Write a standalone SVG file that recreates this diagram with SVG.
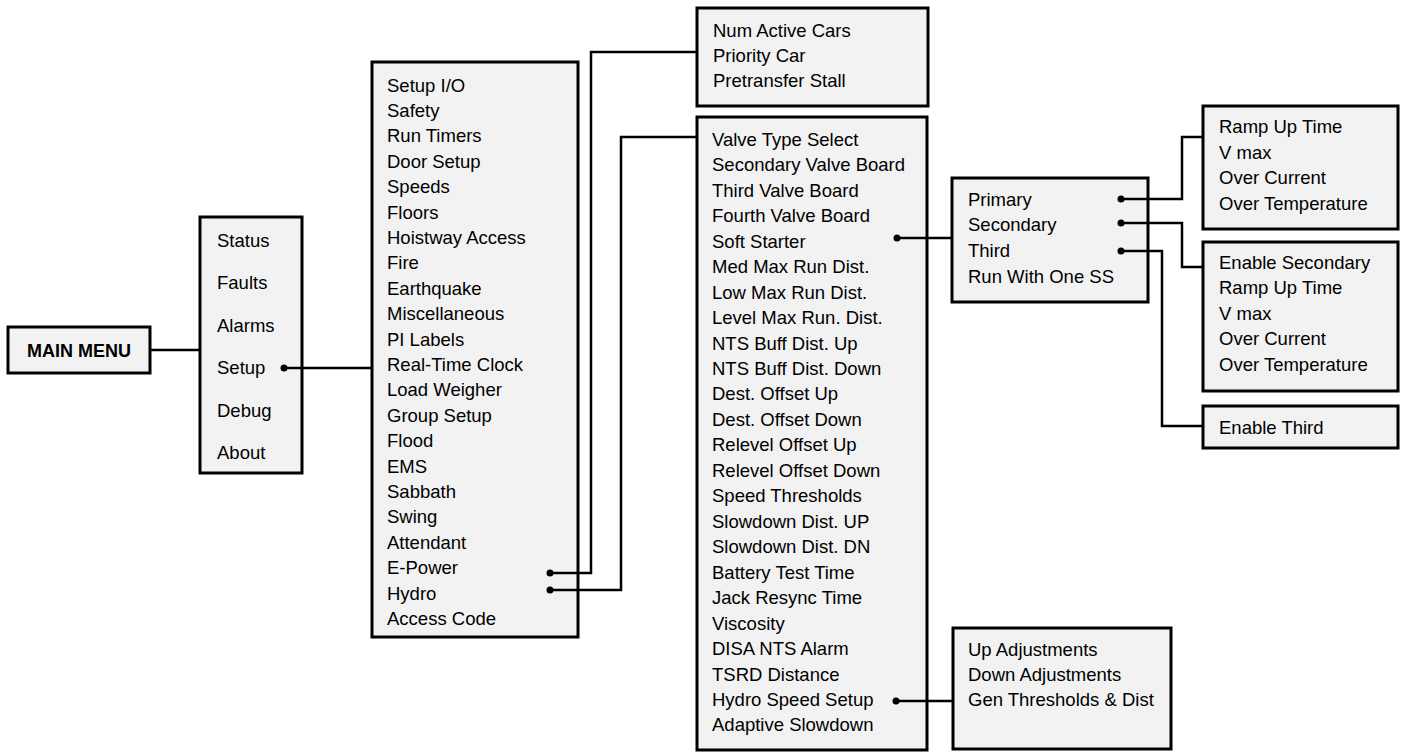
<svg xmlns="http://www.w3.org/2000/svg" width="1406" height="752" viewBox="0 0 1406 752">
<style>
.box{fill:#f2f2f2;stroke:#000;stroke-width:3}
.t{font-family:"Liberation Sans",Arial,sans-serif;font-size:18.5px;fill:#000}
.b{font-family:"Liberation Sans",Arial,sans-serif;font-size:18px;font-weight:bold;fill:#000}
.ln{fill:none;stroke:#000;stroke-width:2.5}
.dot{fill:#000}
</style>
<rect width="1406" height="752" fill="#fff"/>
<g id="main-menu">
<rect class="box" x="8" y="327" width="142" height="46"/>
<text class="b" x="79" y="357" text-anchor="middle">MAIN MENU</text>
</g>
<g id="menu">
<rect class="box" x="200" y="217" width="102" height="256"/>
<text class="t" x="217" y="246.5">Status</text>
<text class="t" x="217" y="289">Faults</text>
<text class="t" x="217" y="331.5">Alarms</text>
<text class="t" x="217" y="374">Setup</text>
<text class="t" x="217" y="416.5">Debug</text>
<text class="t" x="217" y="458.5">About</text>
</g>
<g id="setup">
<rect class="box" x="372" y="62" width="206" height="575"/>
<text class="t" x="387" y="91.5">Setup I/O</text>
<text class="t" x="387" y="116.9">Safety</text>
<text class="t" x="387" y="142.3">Run Timers</text>
<text class="t" x="387" y="167.7">Door Setup</text>
<text class="t" x="387" y="193.1">Speeds</text>
<text class="t" x="387" y="218.5">Floors</text>
<text class="t" x="387" y="243.9">Hoistway Access</text>
<text class="t" x="387" y="269.3">Fire</text>
<text class="t" x="387" y="294.7">Earthquake</text>
<text class="t" x="387" y="320.1">Miscellaneous</text>
<text class="t" x="387" y="345.5">PI Labels</text>
<text class="t" x="387" y="370.9">Real-Time Clock</text>
<text class="t" x="387" y="396.3">Load Weigher</text>
<text class="t" x="387" y="421.7">Group Setup</text>
<text class="t" x="387" y="447.1">Flood</text>
<text class="t" x="387" y="472.5">EMS</text>
<text class="t" x="387" y="497.9">Sabbath</text>
<text class="t" x="387" y="523.3">Swing</text>
<text class="t" x="387" y="548.7">Attendant</text>
<text class="t" x="387" y="574.1">E-Power</text>
<text class="t" x="387" y="599.5">Hydro</text>
<text class="t" x="387" y="624.9">Access Code</text>
</g>
<g id="epower">
<rect class="box" x="697" y="8" width="231" height="98"/>
<text class="t" x="713" y="36.5">Num Active Cars</text>
<text class="t" x="713" y="61.5">Priority Car</text>
<text class="t" x="713" y="86.5">Pretransfer Stall</text>
</g>
<g id="hydro">
<rect class="box" x="697" y="117" width="230" height="633"/>
<text class="t" x="712" y="145.8">Valve Type Select</text>
<text class="t" x="712" y="171.3">Secondary Valve Board</text>
<text class="t" x="712" y="196.7">Third Valve Board</text>
<text class="t" x="712" y="222.2">Fourth Valve Board</text>
<text class="t" x="712" y="247.6">Soft Starter</text>
<text class="t" x="712" y="273.1">Med Max Run Dist.</text>
<text class="t" x="712" y="298.6">Low Max Run Dist.</text>
<text class="t" x="712" y="324.0">Level Max Run. Dist.</text>
<text class="t" x="712" y="349.5">NTS Buff Dist. Up</text>
<text class="t" x="712" y="374.9">NTS Buff Dist. Down</text>
<text class="t" x="712" y="400.4">Dest. Offset Up</text>
<text class="t" x="712" y="425.9">Dest. Offset Down</text>
<text class="t" x="712" y="451.3">Relevel Offset Up</text>
<text class="t" x="712" y="476.8">Relevel Offset Down</text>
<text class="t" x="712" y="502.2">Speed Thresholds</text>
<text class="t" x="712" y="527.7">Slowdown Dist. UP</text>
<text class="t" x="712" y="553.2">Slowdown Dist. DN</text>
<text class="t" x="712" y="578.6">Battery Test Time</text>
<text class="t" x="712" y="604.1">Jack Resync Time</text>
<text class="t" x="712" y="629.5">Viscosity</text>
<text class="t" x="712" y="655.0">DISA NTS Alarm</text>
<text class="t" x="712" y="680.5">TSRD Distance</text>
<text class="t" x="712" y="705.9">Hydro Speed Setup</text>
<text class="t" x="712" y="731.4">Adaptive Slowdown</text>
</g>
<g id="soft-starter">
<rect class="box" x="952" y="178" width="196" height="124"/>
<text class="t" x="968" y="205.5">Primary</text>
<text class="t" x="968" y="231.3">Secondary</text>
<text class="t" x="968" y="257.1">Third</text>
<text class="t" x="968" y="282.9">Run With One SS</text>
</g>
<g id="primary">
<rect class="box" x="1203" y="106" width="195" height="123"/>
<text class="t" x="1219" y="133">Ramp Up Time</text>
<text class="t" x="1219" y="158.5">V max</text>
<text class="t" x="1219" y="184">Over Current</text>
<text class="t" x="1219" y="209.5">Over Temperature</text>
</g>
<g id="secondary">
<rect class="box" x="1203" y="242" width="195" height="149"/>
<text class="t" x="1219" y="268.6">Enable Secondary</text>
<text class="t" x="1219" y="294.1">Ramp Up Time</text>
<text class="t" x="1219" y="319.6">V max</text>
<text class="t" x="1219" y="345.1">Over Current</text>
<text class="t" x="1219" y="370.6">Over Temperature</text>
</g>
<g id="third">
<rect class="box" x="1203" y="406" width="195" height="42"/>
<text class="t" x="1219" y="433.5">Enable Third</text>
</g>
<g id="hydro-speed">
<rect class="box" x="953" y="628" width="218" height="121"/>
<text class="t" x="968" y="656.3">Up Adjustments</text>
<text class="t" x="968" y="681.3">Down Adjustments</text>
<text class="t" x="968" y="706.3">Gen Thresholds &amp; Dist</text>
</g>
<g id="connectors">
<path class="ln" d="M150 350H200"/>
<path class="ln" d="M284 368H372"/>
<circle class="dot" cx="284" cy="368" r="3.5"/>
<path class="ln" d="M550 573H591V52H697"/>
<circle class="dot" cx="550" cy="573" r="3.5"/>
<path class="ln" d="M550 590H621V137H697"/>
<circle class="dot" cx="550" cy="590" r="3.5"/>
<path class="ln" d="M897 238H952"/>
<circle class="dot" cx="897" cy="238" r="3.5"/>
<path class="ln" d="M1121 199H1182V137H1203"/>
<circle class="dot" cx="1121" cy="199" r="3.5"/>
<path class="ln" d="M1121 223H1182V267H1203"/>
<circle class="dot" cx="1121" cy="223" r="3.5"/>
<path class="ln" d="M1121 251H1162V426H1203"/>
<circle class="dot" cx="1121" cy="251" r="3.5"/>
<path class="ln" d="M896 701H953"/>
<circle class="dot" cx="896" cy="701" r="3.5"/>
</g>
</svg>
